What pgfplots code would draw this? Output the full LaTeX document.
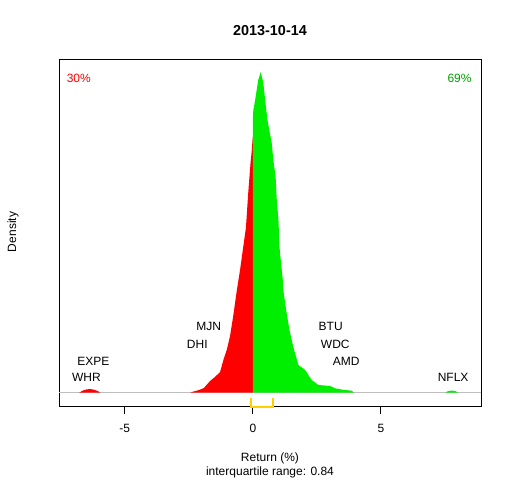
\documentclass[border=0pt]{standalone}
\usepackage{pgfplots}
\pgfplotsset{compat=1.18}
\usepackage{fontspec}
\setmainfont{Liberation Sans}
\definecolor{fillgreen}{HTML}{00EE00}
\definecolor{txtgreen}{HTML}{00A000}
\definecolor{iqr}{HTML}{FFD000}
\definecolor{basegray}{HTML}{BEBEBE}
\begin{document}
\fontsize{12pt}{14pt}\selectfont
\begin{tikzpicture}
\path[use as bounding box] (0,0) rectangle (512pt,480pt);
\begin{axis}[
  at={(59pt,73.3pt)}, anchor=south west,
  scale only axis, width=422pt, height=347.7pt,
  xmin=-7.57, xmax=8.91, ymin=-14, ymax=333.7,
  xtick={-5,0,5}, xticklabels={-5,0,5},
  ytick=\empty, xtick pos=left,
  tick align=outside, major tick length=7pt,
  axis line style={line width=0.8pt},
  every tick/.style={black, line width=0.8pt},
  xticklabel style={anchor=base, yshift=-19pt},
  clip=false,
]
\addplot[basegray, line width=0.8pt] coordinates {(-7.57,0) (8.91,0)};
% red (negative returns)
\addplot[fill=red, draw=none] coordinates {
(-2.45,0) (-2.38,0.7) (-2.10,2.7) (-1.91,4.7) (-1.80,8) (-1.67,11.7) (-1.48,15.7)
(-1.28,20.7) (-1.15,32.7) (-1.02,42.7) (-0.89,56.7) (-0.76,77.7) (-0.63,101.7)
(-0.50,122.7) (-0.37,146.7) (-0.27,165) (-0.18,200) (-0.09,229.7) (-0.04,242.7)
(-0.01,253.7) (0,256) (0,0)} \closedcycle;
\addplot[fill=red, draw=none] coordinates {
(-6.78,0) (-6.65,2) (-6.5,3.3) (-6.35,3.6) (-6.2,3) (-6.05,1.5) (-5.95,0)} \closedcycle;
% green (positive returns)
\addplot[fill=fillgreen, draw=none] coordinates {
(0,0) (0,274.7) (0.02,282.7) (0.09,292.7) (0.15,302.7) (0.21,312.7) (0.31,320.7)
(0.41,309.7) (0.48,292.7) (0.57,272.7) (0.67,259) (0.74,249) (0.80,232.7)
(0.89,215.7) (0.93,194.7) (1.00,172.7) (1.04,145.7) (1.09,132.7) (1.13,122.7)
(1.17,112.7) (1.19,102.7) (1.30,82.7) (1.43,62.7) (1.58,45.7) (1.78,27.7)
(2.04,22.7) (2.30,12.7) (2.56,7.7) (3.02,6.7) (3.21,4.4) (3.5,3) (3.86,2) (3.95,0)} \closedcycle;
\addplot[fill=fillgreen, draw=none] coordinates {
(7.52,0) (7.62,1.5) (7.78,2.2) (7.92,1.5) (8.02,0)} \closedcycle;
% interquartile range bracket
\addplot[iqr, line width=2pt] coordinates {(-0.06,-5.6) (-0.06,-14) (0.78,-14) (0.78,-5.6)};
% outlier tickers
\node at (axis cs:-6.50,15) {WHR};
\node at (axis cs:-6.23,31) {EXPE};
\node at (axis cs:-2.17,48.4) {DHI};
\node at (axis cs:-1.72,66) {MJN};
\node at (axis cs:3.04,66) {BTU};
\node at (axis cs:3.22,48.4) {WDC};
\node at (axis cs:3.65,31) {AMD};
\node at (axis cs:7.82,15) {NFLX};
\node[anchor=base west, inner sep=0pt, text=red] at (rel axis cs:0.018,0.933) {30\%};
\node[anchor=base east, inner sep=0pt, text=txtgreen] at (rel axis cs:0.978,0.933) {69\%};
\end{axis}
\node[anchor=base, font=\fontsize{14.4pt}{16pt}\selectfont\bfseries] at (270pt,444pt) {2013-10-14};
\node[anchor=base, inner sep=0pt] at (270pt,18.3pt) {Return (\%)};
\node[anchor=base, inner sep=0pt] at (270pt,4.3pt) {interquartile range: 0.84};
\node[anchor=base, inner sep=0pt, rotate=90] at (16pt,248pt) {Density};
\end{tikzpicture}
\end{document}
